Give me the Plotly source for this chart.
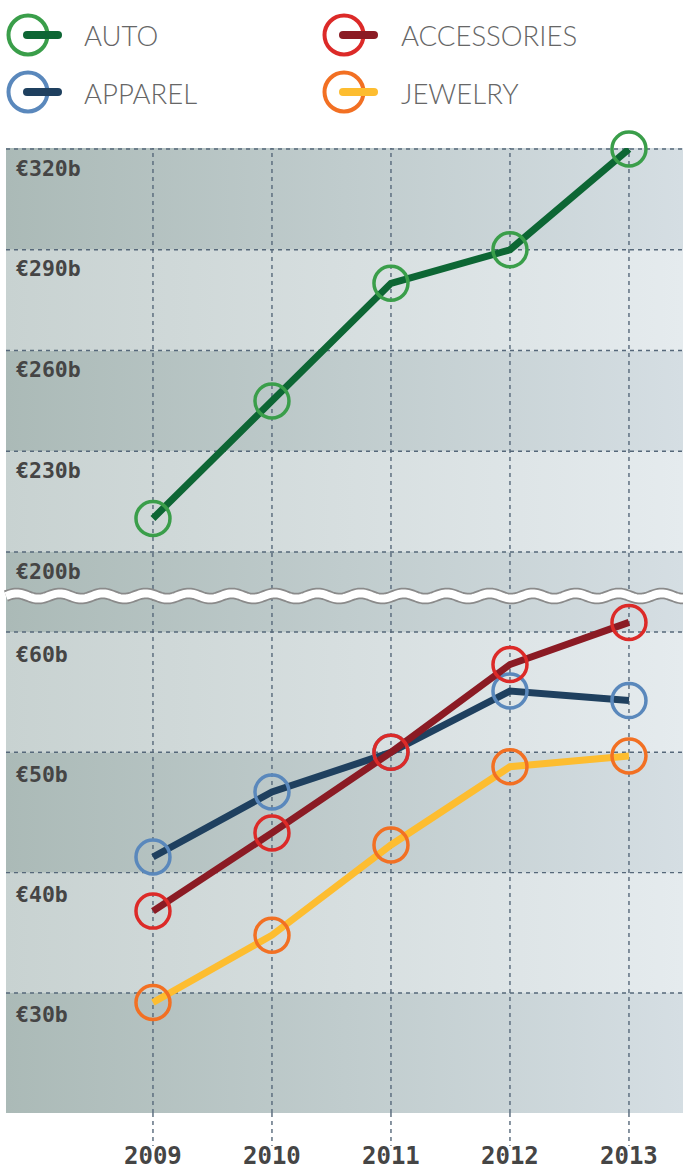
import math
import plotly.graph_objects as go

# values (billions of euro)
years = [2009, 2010, 2011, 2012, 2013]
auto = [210, 245, 280, 290, 320]
accessories = [36.8, 43.3, 50.0, 57.3, 60.8]
apparel = [41.3, 46.7, 50.0, 55.1, 54.3]
jewelry = [29.2, 34.8, 42.3, 48.8, 49.7]

upper_ticks = [200, 230, 260, 290, 320]
lower_ticks = [30, 40, 50, 60]

# name, values, line colour, circle colour, panel
series = [
    ("AUTO", auto, "#0d6634", "#3a9e4a", "top"),
    ("JEWELRY", jewelry, "#fdbd30", "#f27023", "bottom"),
    ("APPAREL", apparel, "#1f405f", "#5a88bc", "bottom"),
    ("ACCESSORIES", accessories, "#8b1b24", "#dc2a28", "bottom"),
]

W, H = 683, 1169
ML, MR, MT, MB = 6, 0, 148, 56
split = 0.5347
xr = [2007.765, 2013.454]
yr_top = [186.6, 320.3]
yr_bot = [20.02, 62.91]

dark = [[0, "#abbab7"], [1, "#d5dee3"]]
light = [[0, "#c8d2d1"], [1, "#e5ebee"]]
grid_col = "#56687a"

fig = go.Figure()


def bands(edges, xa, ya):
    # alternating shaded bands, darkest at the bottom of each panel
    for i in range(len(edges) - 1):
        y0, y1 = edges[i], edges[i + 1]
        fig.add_trace(go.Scatter(
            x=[xr[0], xr[1], xr[1], xr[0], xr[0]], y=[y0, y0, y1, y1, y0],
            mode="none", fill="toself",
            fillgradient=dict(type="horizontal", colorscale=dark if i % 2 == 0 else light),
            hoverinfo="skip", showlegend=False, xaxis=xa, yaxis=ya))


def grid(ticks, yrange, xa, ya):
    gx, gy = [], []
    for t in ticks:
        gx += [xr[0], xr[1], None]
        gy += [t, t, None]
    for yv in years:
        gx += [yv, yv, None]
        gy += [yrange[0], yrange[1], None]
    fig.add_trace(go.Scatter(
        x=gx, y=gy, mode="lines",
        line=dict(color=grid_col, width=1.4, dash="4px,4px"),
        hoverinfo="skip", showlegend=False, xaxis=xa, yaxis=ya))


bands([yr_top[0]] + upper_ticks[:-1] + [yr_top[1]], "x", "y")
bands([yr_bot[0]] + lower_ticks + [yr_bot[1]], "x2", "y2")
grid(upper_ticks, yr_top, "x", "y")
grid(lower_ticks, yr_bot, "x2", "y2")

for name, vals, lc, cc, panel in series:
    xa, ya = ("x", "y") if panel == "top" else ("x2", "y2")
    fig.add_trace(go.Scatter(
        x=years, y=vals, mode="lines+markers", name=name,
        line=dict(color=lc, width=7),
        marker=dict(symbol="circle-open", size=34, color=cc, line=dict(width=3.5, color=cc)),
        cliponaxis=False, showlegend=False, xaxis=xa, yaxis=ya))

shapes = []
annotations = []

# vertical grid continues below the plot
for yv in years:
    shapes.append(dict(type="line", xref="x2", yref="paper", x0=yv, x1=yv,
                       y0=0, y1=-33 / (H - MT - MB),
                       line=dict(color=grid_col, width=1.4, dash="4px,4px")))

# wavy axis break
pw = W - ML - MR
ph = H - MT - MB
yc = (H - MB - 596) / ph
pts = []
px = 0.0
while px <= pw + 1:
    pts.append((px / pw, yc + 2.6 * math.sin(2 * math.pi * px / 43.0) / ph))
    px += 1.5
path = "M " + " L ".join(f"{a:.5f},{b:.5f}" for a, b in pts)
shapes.append(dict(type="path", xref="paper", yref="paper", path=path,
                   line=dict(color="#8a8a8a", width=11.5), layer="above"))
shapes.append(dict(type="path", xref="paper", yref="paper", path=path,
                   line=dict(color="white", width=8), layer="above"))

# y labels inside the plot
for t in upper_ticks:
    annotations.append(dict(xref="paper", yref="y", x=0, y=t, xanchor="left", yanchor="middle",
                            xshift=8, yshift=-19, text=f"€{t}b", showarrow=False,
                            font=dict(family="DejaVu Sans Mono", size=21.5, color="#454545", weight="bold")))
for t in lower_ticks:
    annotations.append(dict(xref="paper", yref="y2", x=0, y=t, xanchor="left", yanchor="middle",
                            xshift=8, yshift=-22, text=f"€{t}b", showarrow=False,
                            font=dict(family="DejaVu Sans Mono", size=21.5, color="#454545", weight="bold")))
for yv in years:
    annotations.append(dict(xref="x2", yref="paper", x=yv, y=0, yanchor="middle", yshift=-43,
                            text=str(yv), showarrow=False,
                            font=dict(family="DejaVu Sans Mono", size=24, color="#454545", weight="bold")))

# legend drawn by hand: circle with a stub of line
legend_pos = [("AUTO", 28, 35, 82), ("ACCESSORIES", 344, 35, 399),
              ("APPAREL", 28, 92, 82), ("JEWELRY", 344, 92, 399)]
cols = {s[0]: (s[2], s[3]) for s in series}
for name, cx, cy, tx in legend_pos:
    lc, cc = cols[name]
    xa = (cx - ML) / pw
    ya = (H - MB - cy) / ph
    shapes.append(dict(type="circle", xref="paper", yref="paper", xsizemode="pixel", ysizemode="pixel",
                       xanchor=xa, yanchor=ya, x0=-19.5, x1=19.5, y0=-19.5, y1=19.5,
                       line=dict(color=cc, width=4), layer="above"))
    shapes.append(dict(type="line", xref="paper", yref="paper", xsizemode="pixel", ysizemode="pixel",
                       xanchor=xa, yanchor=ya, x0=-1, x1=30, y0=0, y1=0,
                       line=dict(color=lc, width=8), layer="above"))
    for ex in (-1, 30):
        shapes.append(dict(type="circle", xref="paper", yref="paper", xsizemode="pixel", ysizemode="pixel",
                           xanchor=xa, yanchor=ya, x0=ex - 4, x1=ex + 4, y0=-4, y1=4,
                           fillcolor=lc, line=dict(width=0), layer="above"))
    annotations.append(dict(xref="paper", yref="paper", x=(tx - ML) / pw, y=(H - MB - cy - 1) / ph,
                            xanchor="left", yanchor="middle", text=name, showarrow=False,
                            font=dict(family="Lato", size=27.5, color="#666666", weight=300)))

ax_common = dict(showgrid=False, zeroline=False, showticklabels=False, ticks="", showline=False, fixedrange=True)
fig.update_layout(
    width=W, height=H,
    margin=dict(l=ML, r=MR, t=MT, b=MB),
    paper_bgcolor="white", plot_bgcolor="rgba(0,0,0,0)",
    hovermode=False, showlegend=False,
    xaxis=dict(domain=[0, 1], range=xr, anchor="y", **ax_common),
    yaxis=dict(domain=[split, 1], range=yr_top, anchor="x", **ax_common),
    xaxis2=dict(domain=[0, 1], range=xr, anchor="y2", **ax_common),
    yaxis2=dict(domain=[0, split], range=yr_bot, anchor="x2", **ax_common),
    shapes=shapes, annotations=annotations,
)

# the page's default body margin would push the chart off by 8px
fig.write_html("out.html", config={"displayModeBar": False},
               post_script="document.body.style.margin='0';document.body.style.overflow='hidden';")
